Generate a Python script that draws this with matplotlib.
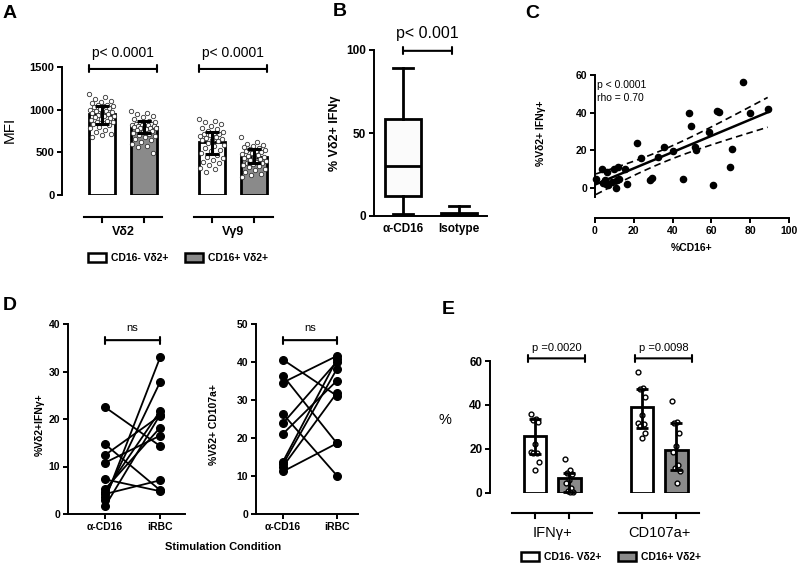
import numpy as np
import matplotlib
matplotlib.use("Agg")
import matplotlib.pyplot as plt
from matplotlib.patches import Patch
from matplotlib.transforms import blended_transform_factory

plt.rcParams['font.family'] = ['Liberation Sans', 'DejaVu Sans']

# ---- panel A : MFI of Vd2 / Vg9 on CD16- and CD16+ cells
a_groups = ['Vδ2', 'Vγ9']
a_legend = ['CD16- Vδ2+', 'CD16+ Vδ2+']
a_pvals = ['p< 0.0001', 'p< 0.0001']
a_bar = [955, 795, 625, 440]
a_err_lo = [830, 721, 479, 370]
a_err_hi = [1044, 869, 740, 534]
a_vd2_neg = [1180, 1150, 1120, 1100, 1090, 1080, 1060, 1050, 1045, 1040, 1030, 1020,
             1010, 1000, 990, 985, 975, 965, 960, 950, 940, 930, 920, 910, 900, 890,
             880, 870, 860, 850, 840, 830, 815, 800, 780, 760, 740, 720, 700, 680]
a_vd2_pos = [982, 960, 945, 930, 910, 890, 870, 860, 850, 840, 835, 830, 825, 820,
             815, 810, 805, 800, 795, 790, 785, 780, 770, 760, 750, 740, 730, 720,
             700, 690, 680, 660, 640, 620, 600, 580, 560, 487]
a_vg9_neg = [896, 870, 850, 830, 810, 790, 770, 750, 740, 730, 720, 710, 700, 690,
             680, 670, 660, 650, 640, 630, 610, 590, 570, 550, 530, 510, 490, 470,
             450, 430, 410, 390, 370, 350, 320, 300, 273]
a_vg9_pos = [682, 620, 600, 590, 575, 560, 550, 540, 530, 520, 510, 500, 490, 480,
             470, 460, 450, 440, 430, 420, 410, 400, 390, 380, 370, 360, 350, 340,
             330, 310, 290, 270, 250, 230, 214]

# ---- panel B : box plot % IFNg
b_labels = ['α-CD16', 'Isotype']
b_whislo = [1.5, 0]
b_q1 = [12, 0]
b_med = [30, 0.8]
b_q3 = [58.5, 2]
b_whishi = [89, 6]

# ---- panel C : correlation
c_cd16 = [0.5, 3.4, 5.2, 6, 4.3, 5.7, 6.9, 8.6, 9.8, 11.2, 10.8, 12, 12.5, 15.5, 16.7,
          21.5, 23.5, 28.4, 29.2, 32.3, 35.7, 40, 45.5, 48.5, 49.3, 51.4, 51.9, 58.6,
          60.7, 63, 63.9, 69.6, 70.8, 76.1, 79.9, 89]
c_ifng = [5, 10.3, 4, 8.5, 2.7, 2.3, 1.4, 3.2, 10.3, 4, 0, 11.2, 5, 10.3, 2.3,
          24.1, 16, 4, 5.5, 16.2, 21.8, 19.5, 5, 40, 32.8, 21.8, 20, 29.8,
          1.4, 41, 40.5, 11.2, 20.6, 56.5, 40, 41.7]

# ---- panel D : paired a-CD16 vs iRBC
d_conditions = ['α-CD16', 'iRBC']
d_ifn_acd16 = [22.5, 14.7, 12.4, 10.8, 7.3, 4.2, 5.2, 4.7, 3.6, 3.0, 1.6]
d_ifn_irbc = [14.3, 5.0, 20.7, 16.5, 4.8, 7.1, 18.2, 21.7, 27.8, 33.0, 20.9]
d_cd107_acd16 = [40.6, 36.4, 34.6, 26.3, 23.9, 21.1, 13.8, 13.1, 12.5, 11.2]
d_cd107_irbc = [31.1, 18.6, 41.6, 10.1, 40.1, 35.1, 40.7, 38.2, 31.9, 18.6]

# ---- panel E : % IFNg+ / CD107a+ on CD16- and CD16+
e_groups = ['IFNγ+', 'CD107a+']
e_pvals = ['p =0.0020', 'p =0.0098']
e_bar = [26, 6.5, 39, 19.6]
e_err_lo = [17.7, 0.5, 29.6, 10.3]
e_err_hi = [33.6, 9.1, 47.4, 31.6]
e_ifn_neg = [35.7, 33.6, 33.2, 32.4, 22.2, 18.7, 18.2, 18.0, 13.8, 10.3]
e_ifn_pos = [15.3, 10.3, 9.1, 8.5, 5.8, 4.6, 2.0, 0.9, 0.5, 0.3]
e_cd107_neg = [54.8, 47.5, 47.1, 43.8, 35.4, 31.9, 31.3, 30.4, 27.3, 25.1]
e_cd107_pos = [41.8, 32.4, 31.6, 27.3, 21.4, 18.7, 12.6, 11.1, 10.0, 4.3]

W, H = 800, 568
GRAY = '#8a8a8a'


def fx(px):
    return px / W


def fy(py):
    return 1 - py / H


def box(l, t, r, b):
    return [fx(l), fy(b), (r - l) / W, (b - t) / H]


def spread(n, w):
    k = np.arange(n)
    return ((k * 0.618034) % 1 - 0.5) * 2 * w


def style(ax, fs=7.5):
    for s in ['top', 'right']:
        ax.spines[s].set_visible(False)
    for s in ['left', 'bottom']:
        ax.spines[s].set_linewidth(1.4)
    ax.tick_params(width=1.4, length=3.5, labelsize=fs, pad=2)
    for lab in ax.get_yticklabels() + ax.get_xticklabels():
        lab.set_fontweight('bold')


def bracket(ax, x0, x1, y, txt, ty, fs, w=0.25):
    ax.annotate('', xy=(x0, y), xytext=(x1, y), annotation_clip=False,
                arrowprops=dict(arrowstyle='|-|, widthA=%s, widthB=%s' % (w, w),
                                lw=1.5, color='black', shrinkA=0, shrinkB=0))
    ax.text((x0 + x1) / 2, ty, txt, ha='center', va='center', fontsize=fs)


def broken_xaxis(ax, spans, centers, labels, off, fs, weight, lab_off):
    tr = blended_transform_factory(ax.transData, ax.transAxes)
    h = ax.bbox.height
    yseg = -off / h
    for (x0, x1) in spans:
        ax.plot([x0, x1], [yseg, yseg], color='black', lw=1.5, transform=tr, clip_on=False)
    for c in centers:
        ax.plot([c, c], [yseg, yseg - 5 / h], color='black', lw=1.5, transform=tr, clip_on=False)
    for (x0, x1), lab in zip(spans, labels):
        ax.text((x0 + x1) / 2, -lab_off / h, lab, transform=tr, ha='center', va='center',
                fontsize=fs, fontweight=weight)
    ax.spines['bottom'].set_visible(False)
    ax.set_xticks([])


fig = plt.figure(figsize=(8, 5.68), dpi=100)

# ================= A
axA = fig.add_axes(box(62, 67, 272, 195))
posA = [0, 1, 2.62, 3.62]
colA = ['white', GRAY, 'white', GRAY]
axA.bar(posA, a_bar, width=0.62, color=colA, edgecolor='black', lw=2, zorder=1)
for p, vals in zip(posA, [a_vd2_neg, a_vd2_pos, a_vg9_neg, a_vg9_pos]):
    axA.scatter(p + spread(len(vals), 0.3), vals, s=10, facecolor='white',
                edgecolor='#333333', lw=0.6, zorder=2, clip_on=False)
bA = np.array(a_bar)
axA.errorbar(posA, bA, yerr=[bA - np.array(a_err_lo), np.array(a_err_hi) - bA], fmt='none',
             ecolor='black', elinewidth=2.2, capsize=5, capthick=2.2, zorder=3)
axA.set_xlim(-0.95, 4.05)
axA.set_ylim(0, 1500)
axA.set_yticks([0, 500, 1000, 1500])
style(axA, 8)
broken_xaxis(axA, [(-0.43, 1.43), (2.19, 4.07)], posA, a_groups, 22, 9, 'bold', 37)
for g, pv in enumerate(a_pvals):
    x0 = posA[2 * g] - 0.31
    x1 = posA[2 * g + 1] + 0.31
    bracket(axA, x0, x1, 1477, pv, 1664, 10)
fig.text(fx(10), fy(130), 'MFI', rotation=90, ha='center', va='center', fontsize=11)
hA = [Patch(facecolor=c, edgecolor='black', lw=1.8) for c in ['white', GRAY]]
fig.legend(hA, a_legend, loc='center', bbox_to_anchor=(fx(178), fy(258)), ncol=2,
           frameon=False, prop=dict(weight='bold', size=7.5), handlelength=1.7,
           handleheight=1.0, columnspacing=1.6, handletextpad=0.5)

# ================= B
axB = fig.add_axes(box(374, 50, 487, 216))
stats = [dict(whislo=b_whislo[i], q1=b_q1[i], med=b_med[i], q3=b_q3[i], whishi=b_whishi[i],
              fliers=[]) for i in range(2)]
axB.bxp(stats, positions=[0, 1], widths=0.64, patch_artist=True, showfliers=False,
        boxprops=dict(facecolor='#fbfbfb', edgecolor='black', lw=2),
        medianprops=dict(color='black', lw=2), whiskerprops=dict(color='black', lw=2),
        capprops=dict(color='black', lw=2), capwidths=0.37)
axB.set_xlim(-0.52, 1.5)
axB.set_ylim(0, 100)
axB.set_yticks([0, 50, 100])
axB.set_xticks([0, 1])
axB.set_xticklabels(b_labels)
style(axB, 8.5)
axB.tick_params(axis='x', length=0, labelsize=8.5, pad=5)
bracket(axB, 0, 0.87, 99.5, 'p< 0.001', 110, 11.5)
fig.text(fx(335), fy(133), '% Vδ2+ IFNγ', rotation=90, ha='center', va='center',
         fontsize=9, fontweight='bold')

# ================= C
axC = fig.add_axes(box(595, 75, 789, 197.4))
cx = np.array(c_cd16)
cy = np.array(c_ifng)
axC.scatter(cx, cy, s=20, color='black', zorder=3, clip_on=False)
slope, icpt = np.polyfit(cx, cy, 1)
xs = np.linspace(cx.min(), cx.max(), 100)
n = len(cx)
res = cy - (slope * cx + icpt)
s_err = np.sqrt(np.sum(res ** 2) / (n - 2))
ci = 2.03 * s_err * np.sqrt(1 / n + (xs - cx.mean()) ** 2 / np.sum((cx - cx.mean()) ** 2))
fit = slope * xs + icpt
axC.plot(xs, fit, color='black', lw=1.8)
axC.plot(xs, fit + ci, color='black', lw=1.2, ls=(0, (4, 2.5)))
axC.plot(xs, fit - ci, color='black', lw=1.2, ls=(0, (4, 2.5)))
axC.set_xlim(0, 100)
axC.set_ylim(-5, 60)
axC.set_xticks([0, 20, 40, 60, 80, 100])
axC.set_yticks([0, 20, 40, 60])
axC.spines['bottom'].set_position(('outward', 15))
style(axC, 7.5)
axC.text(1, 54.7, 'p < 0.0001', fontsize=7.5, va='center')
axC.text(1, 47.8, 'rho = 0.70', fontsize=7.5, va='center')
fig.text(fx(541), fy(133), '%Vδ2+ IFNγ+', rotation=90, ha='center', va='center',
         fontsize=7.5, fontweight='bold')
fig.text(fx(692), fy(248), '%CD16+', ha='center', va='center', fontsize=7.5,
         fontweight='bold')

# ================= D
axD1 = fig.add_axes(box(68, 324, 185, 514))
axD2 = fig.add_axes(box(256, 324, 358, 514))
for ax, pre, post, ymax, xl, ylab, ylx in [
        (axD1, d_ifn_acd16, d_ifn_irbc, 40, (-0.67, 1.45), '%Vδ2+IFNγ+', 40),
        (axD2, d_cd107_acd16, d_cd107_irbc, 50, (-0.5, 1.39), '%Vδ2+ CD107a+', 214)]:
    for a, b in zip(pre, post):
        ax.plot([0, 1], [a, b], '-o', color='black', lw=1.3, ms=5.5, clip_on=False)
    ax.set_xlim(*xl)
    ax.set_ylim(0, ymax)
    ax.set_yticks(np.arange(0, ymax + 1, 10))
    ax.set_xticks([0, 1])
    ax.set_xticklabels(d_conditions)
    style(ax, 7.5)
    bracket(ax, 0, 1, ymax * 0.915, 'ns', ymax * 0.98, 8)
    fig.text(fx(ylx), fy(425), ylab, rotation=90, ha='center', va='center',
             fontsize=7.5, fontweight='bold')
fig.text(fx(223), fy(547), 'Stimulation Condition', ha='center', va='center',
         fontsize=8, fontweight='bold')

# ================= E
axE = fig.add_axes(box(490, 361, 697, 492.7))
posE = [0, 1, 3.1, 4.1]
colE = ['white', GRAY, 'white', GRAY]
axE.bar(posE, e_bar, width=0.65, color=colE, edgecolor='black', lw=2, zorder=1)
for p, vals in zip(posE, [e_ifn_neg, e_ifn_pos, e_cd107_neg, e_cd107_pos]):
    axE.scatter(p + spread(len(vals), 0.12), vals, s=12, facecolor='white',
                edgecolor='black', lw=1, zorder=2, clip_on=False)
bE = np.array(e_bar)
axE.errorbar(posE, bE, yerr=[bE - np.array(e_err_lo), np.array(e_err_hi) - bE], fmt='none',
             ecolor='black', elinewidth=2, capsize=4, capthick=2, zorder=3)
axE.set_xlim(-1.3, 4.7)
axE.set_ylim(0, 60)
axE.set_yticks([0, 20, 40, 60])
style(axE, 8.5)
broken_xaxis(axE, [(-0.67, 1.67), (2.43, 4.77)], posE, e_groups, 20.6, 10.5, 'normal', 40)
for g, pv in enumerate(e_pvals):
    bracket(axE, posE[2 * g] - 0.2, posE[2 * g] + 1.45, 61.2, pv, 66, 8)
fig.text(fx(445), fy(420), '%', ha='center', va='center', fontsize=10.5)
hE = [Patch(facecolor=c, edgecolor='black', lw=1.8) for c in ['white', GRAY]]
fig.legend(hE, a_legend, loc='center', bbox_to_anchor=(fx(611), fy(557)), ncol=2,
           frameon=False, prop=dict(weight='bold', size=7.5), handlelength=1.7,
           handleheight=1.0, columnspacing=1.6, handletextpad=0.5)

# panel letters
for lab, px, py in [('A', 10, 13), ('B', 340, 12), ('C', 532, 13), ('D', 10, 306), ('E', 448, 309)]:
    fig.text(fx(px), fy(py), lab, ha='center', va='center', fontsize=14, fontweight='bold')

fig.savefig('out.png', dpi=100)
